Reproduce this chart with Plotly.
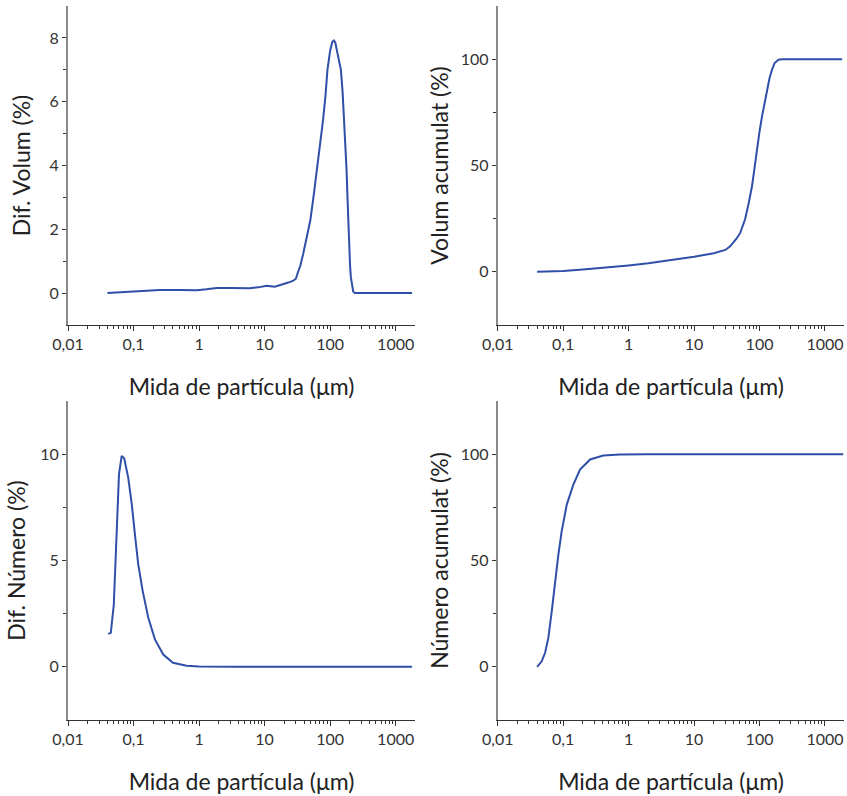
import plotly.graph_objects as go

# ---------------- data ----------------
dv_x = [0.040, 0.06, 0.1, 0.15, 0.25, 0.5, 0.92, 1.3, 1.85, 3, 5.9, 8, 10.7, 14.3, 17, 19, 23, 27, 30,
        32, 35, 39, 44, 50, 56, 63, 70, 78, 85, 91, 100, 108, 114, 120, 130, 146, 155, 164, 172, 178,
        184, 188, 195, 201, 207, 216, 225, 238, 300, 1000, 1780]
dv_y = [0.0, 0.02, 0.05, 0.08, 0.10, 0.10, 0.09, 0.12, 0.16, 0.16, 0.15, 0.18, 0.23, 0.20, 0.24, 0.29, 0.33, 0.38, 0.45,
        0.63, 0.85, 1.25, 1.75, 2.30, 3.05, 3.87, 4.65, 5.43, 6.2, 7.0, 7.6, 7.88, 7.92, 7.85, 7.5, 7.0, 6.3, 5.43, 4.6, 3.87,
        3.0, 2.3, 1.5, 0.9, 0.5, 0.2, 0.05, 0.0, 0.0, 0.0, 0.0]

va_x = [0.04, 0.06, 0.1, 0.2, 0.5, 0.74, 1, 2, 5, 10, 20, 25, 30, 35.6, 40, 45, 50.7, 55, 60, 68, 76.5,
        84, 91, 100, 109, 120, 130, 142, 155, 170, 195, 220, 500, 1000, 1830]
va_y = [0, 0.15, 0.4, 1.1, 2.1, 2.6, 3.0, 4.0, 5.6, 7.1, 8.7, 9.4, 10.3, 12, 13.8, 15.8, 18.3, 21, 24.6, 32, 40,
        49, 57.4, 66, 73, 80, 85.6, 91, 95, 98.2, 99.7, 100, 100, 100, 100]

dn_x = [0.041, 0.045, 0.050, 0.055, 0.060, 0.066, 0.072, 0.083, 0.094, 0.105, 0.118, 0.138, 0.168, 0.212,
        0.284, 0.40, 0.645, 1, 3, 1780]
dn_y = [1.55, 1.6, 2.93, 6.55, 9.06, 9.92, 9.81, 8.9, 7.64, 6.23, 4.82, 3.56, 2.31, 1.29,
        0.58, 0.19, 0.05, 0.02, 0.0, 0.0]

na_x = [0.040, 0.047, 0.053, 0.0594, 0.067, 0.075, 0.0845, 0.095, 0.1136, 0.143, 0.181, 0.258, 0.41, 0.74, 2, 1900]
na_y = [0, 2.6, 6.6, 13.6, 26.2, 40.3, 52.8, 63.8, 76.3, 85.7, 92.8, 97.5, 99.4, 99.8, 100, 100]

x_tickvals = [0.01, 0.1, 1, 10, 100, 1000]
x_ticktext = ["0,01", "0,1", "1", "10", "100", "1000"]
x_title = "Mida de partícula (μm)"
y_titles = ["Dif. Volum (%)", "Volum acumulat (%)", "Dif. Número (%)", "Número acumulat (%)"]

# ---------------- style ----------------
BLUE = "#2F4FA8"
FONT = "Lato"
minor_x = [m * 10 ** e for e in range(-2, 4) for m in range(2, 10)]

fig = go.Figure()
series = [(dv_x, dv_y), (va_x, va_y), (dn_x, dn_y), (na_x, na_y)]
for i, (xs, ys) in enumerate(series):
    sfx = "" if i == 0 else str(i + 1)
    fig.add_trace(go.Scatter(x=xs, y=ys, mode="lines", xaxis="x" + sfx, yaxis="y" + sfx,
                             line=dict(color=BLUE, width=2), showlegend=False, hoverinfo="skip"))

xdom = [[68 / 847, 415 / 847], [497.7 / 847, 844.3 / 847]]
ydom = [[1 - 325 / 796, 1 - 6 / 796], [1 - 720 / 796, 1 - 401 / 796]]

y_specs = [
    dict(range=[-1, 9], tickvals=[0, 2, 4, 6, 8], minor=[1, 3, 5, 7], standoff=12),
    dict(range=[-25, 125], tickvals=[0, 50, 100], minor=[25, 75], standoff=6),
    dict(range=[-2.5, 12.5], tickvals=[0, 5, 10], minor=[2.5, 7.5], standoff=8),
    dict(range=[-25, 125], tickvals=[0, 50, 100], minor=[25, 75], standoff=6),
]

layout = dict(width=847, height=796, autosize=False,
              margin=dict(l=0, r=0, t=0, b=0, autoexpand=False),
              paper_bgcolor="white", plot_bgcolor="white",
              font=dict(family=FONT, color="#333333"))

for i in range(4):
    sfx = "" if i == 0 else str(i + 1)
    col = i % 2
    row = i // 2
    spec = y_specs[i]
    layout["xaxis" + sfx] = dict(
        type="log", range=[-2, 3.295], domain=xdom[col], anchor="y" + sfx, automargin=False,
        tickvals=x_tickvals, ticktext=x_ticktext, ticks="outside", ticklen=5, tickwidth=1,
        tickcolor="#333333", showline=True, linecolor="#333333", linewidth=1.2,
        showgrid=False, zeroline=False, tickfont=dict(size=16, color="#333333"),
        minor=dict(tickvals=minor_x, ticks="outside", ticklen=3, tickwidth=1, tickcolor="#333333", showgrid=False),
        title=dict(text=x_title, font=dict(size=23, color="#222222"), standoff=26),
    )
    layout["yaxis" + sfx] = dict(
        range=spec["range"], domain=ydom[row], anchor="x" + sfx, automargin=False,
        tickvals=spec["tickvals"], ticks="outside", ticklen=4, tickwidth=1,
        tickcolor="#333333", showline=True, linecolor="#8a8a8a", linewidth=2,
        showgrid=False, zeroline=False, tickfont=dict(size=16, color="#333333"),
        minor=dict(tickvals=spec["minor"], ticks="outside", ticklen=3, tickwidth=1, tickcolor="#333333", showgrid=False),
        title=dict(text=y_titles[i], font=dict(size=23, color="#222222"), standoff=spec["standoff"]),
    )

fig.update_layout(**layout)
fig.write_html("out.html", config={"displayModeBar": False},
               post_script="document.body.style.margin='0';document.body.style.padding='0';")
